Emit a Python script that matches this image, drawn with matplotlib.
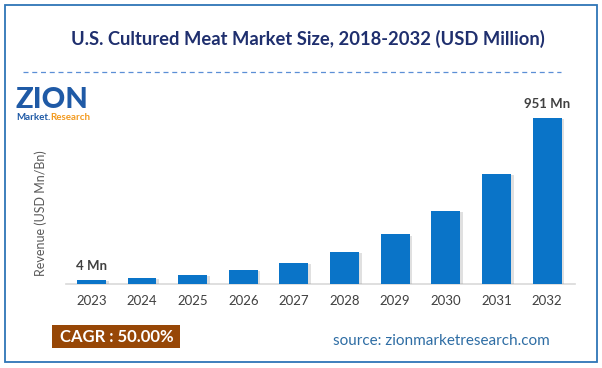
import numpy as np
import matplotlib.pyplot as plt
import matplotlib.patheffects as pe
from matplotlib.patches import Rectangle
from matplotlib.lines import Line2D

years = ["2023", "2024", "2025", "2026", "2027", "2028", "2029", "2030", "2031", "2032"]
revenue = [23, 34, 53, 82, 122, 185, 285, 420, 630, 951]
bar_labels = {0: "4 Mn", 9: "951 Mn"}

title = "U.S. Cultured Meat Market Size, 2018-2032 (USD Million)"
ylabel = "Revenue (USD Mn/Bn)"
cagr_text = "CAGR : 50.00%"
source_text = "source: zionmarketresearch.com"

W, H = 602, 368
fig = plt.figure(figsize=(W / 100, H / 100), dpi=100)
plt.rcParams['font.family'] = ['Lato', 'DejaVu Sans']

def fx(x):
    return x / W

def fy(y):
    return 1 - y / H

# outer frame
fig.patches.append(Rectangle((fx(5), fy(362)), fx(597) - fx(5), fy(5) - fy(362),
                             transform=fig.transFigure, fill=False,
                             edgecolor="#2E75B6", linewidth=1.3))

fig.text(fx(308), fy(39), title, ha="center", va="center", fontsize=13.2,
         fontweight="bold", color="#1F2F6E")

fig.lines.append(Line2D([fx(23), fx(561)], [fy(72), fy(72)], transform=fig.transFigure,
                        color="#5B8FD6", linewidth=0.9, linestyle=(0, (4, 3))))

# logo
fig.text(fx(15), fy(100), "ZION", ha="left", va="center", fontsize=21,
         fontweight="black", color="#1F5AA6")
fig.text(fx(16), fy(118), "Market.", ha="left", va="center", fontsize=7,
         fontweight="bold", color="#1F5AA6")
fig.text(fx(50), fy(118), "Research", ha="left", va="center", fontsize=7,
         fontweight="bold", color="#F39A1E")

ax = fig.add_axes([fx(66), fy(284), fx(575) - fx(66), fy(95) - fy(284)])
x = np.arange(len(years))
bars = ax.bar(x, revenue, width=0.57, color="#0A74C8", zorder=3)
for b in bars:
    b.set_path_effects([pe.SimplePatchShadow(offset=(2, -1), shadow_rgbFace="#999999", alpha=0.3),
                        pe.Normal()])

for i, txt in bar_labels.items():
    ax.annotate(txt, (x[i], revenue[i]), xytext=(0, 6), textcoords="offset points",
                ha="center", va="bottom", fontsize=9.5, fontweight="bold", color="#404040")

ax.set_xlim(-0.5, 9.55)
ax.set_ylim(0, 951 * 189 / 166)
ax.set_xticks(x)
ax.set_xticklabels(years, fontsize=9.5, color="#404040")
ax.tick_params(axis="x", length=0, pad=8)
ax.set_yticks([])
for s in ["top", "right", "left"]:
    ax.spines[s].set_visible(False)
ax.spines["bottom"].set_color("#D9D9D9")
ax.spines["bottom"].set_linewidth(1.2)

fig.text(fx(41), fy(213), ylabel, rotation=90, ha="center", va="center",
         fontsize=9, color="#595959")

# CAGR box
fig.patches.append(Rectangle((fx(52), fy(348)), fx(180) - fx(52), fy(325) - fy(348),
                             transform=fig.transFigure, facecolor="#974706", edgecolor="none"))
fig.text(fx(117), fy(337), cagr_text, ha="center", va="center", fontsize=12,
         fontweight="bold", color="white")

fig.text(fx(441), fy(341), source_text, ha="center", va="center", fontsize=11,
         color="#2E6DA4")

fig.savefig("out.png", dpi=100)
